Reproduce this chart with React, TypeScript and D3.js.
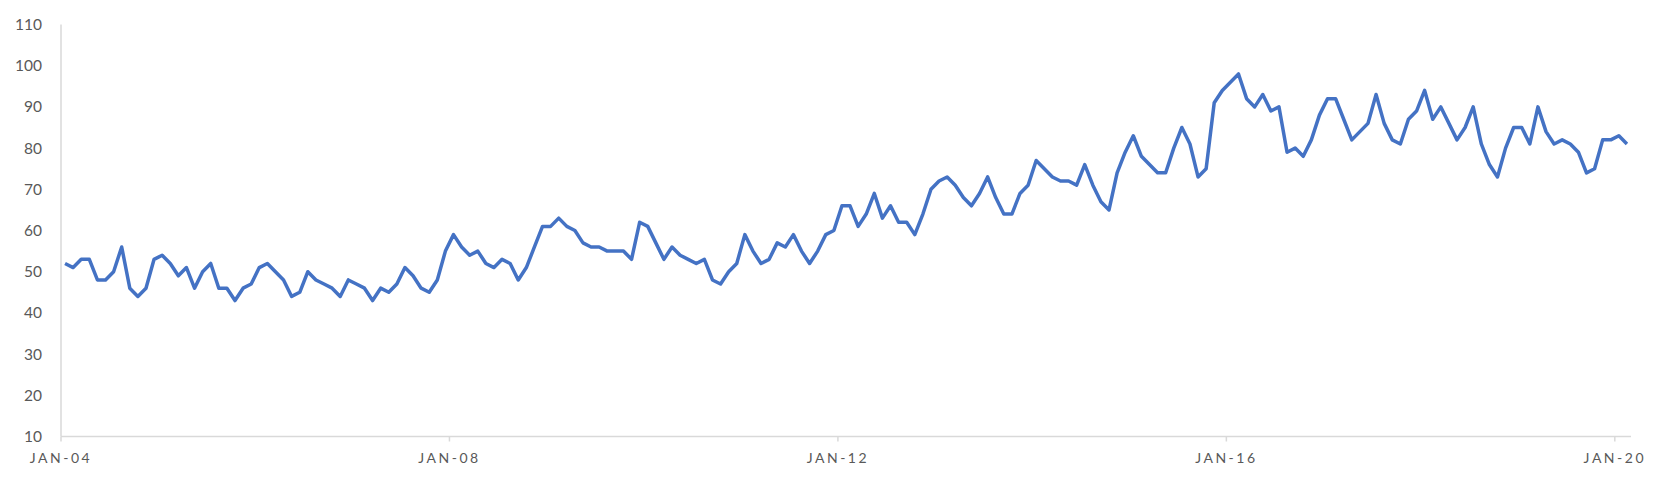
import React from 'react';
import * as d3 from 'd3';

// monthly index, Jan 2004 .. Feb 2020
const values = [
  52, 51, 53, 53, 48, 48, 50, 56, 46, 44,
  46, 53, 54, 52, 49, 51, 46, 50, 52, 46,
  46, 43, 46, 47, 51, 52, 50, 48, 44, 45,
  50, 48, 47, 46, 44, 48, 47, 46, 43, 46,
  45, 47, 51, 49, 46, 45, 48, 55, 59, 56,
  54, 55, 52, 51, 53, 52, 48, 51, 56, 61,
  61, 63, 61, 60, 57, 56, 56, 55, 55, 55,
  53, 62, 61, 57, 53, 56, 54, 53, 52, 53,
  48, 47, 50, 52, 59, 55, 52, 53, 57, 56,
  59, 55, 52, 55, 59, 60, 66, 66, 61, 64,
  69, 63, 66, 62, 62, 59, 64, 70, 72, 73,
  71, 68, 66, 69, 73, 68, 64, 64, 69, 71,
  77, 75, 73, 72, 72, 71, 76, 71, 67, 65,
  74, 79, 83, 78, 76, 74, 74, 80, 85, 81,
  73, 75, 91, 94, 96, 98, 92, 90, 93, 89,
  90, 79, 80, 78, 82, 88, 92, 92, 87, 82,
  84, 86, 93, 86, 82, 81, 87, 89, 94, 87,
  90, 86, 82, 85, 90, 81, 76, 73, 80, 85,
  85, 81, 90, 84, 81, 82, 81, 79, 74, 75,
  82, 82, 83, 81,
];

const tickLabels = ['JAN-04', 'JAN-08', 'JAN-12', 'JAN-16', 'JAN-20'];
const tickMonths = [0, 48, 96, 144, 192];
const yTicks = [10, 20, 30, 40, 50, 60, 70, 80, 90, 100, 110];

const W = 1654;
const H = 479;

const App = () => {
  const x = d3.scaleLinear().domain([0, values.length]).range([61, 1631]);
  const y = d3.scaleLinear().domain([10, 110]).range([436.5, 24.5]);

  // points sit in the middle of each month slot
  const path = d3
    .line<number>()
    .x((d, i) => x(i + 0.5))
    .y((d) => y(d))(values);

  return (
    <svg
      width={W}
      height={H}
      style={{ position: 'absolute', left: 0, top: 0, background: '#fff' }}
      fontFamily="Lato, 'Open Sans', sans-serif"
    >
      <line x1={x(0)} x2={x(0)} y1={y(110)} y2={y(10)} stroke="#d9d9d9" strokeWidth={1.5} />
      <line x1={x(0)} x2={x(values.length)} y1={y(10)} y2={y(10)} stroke="#d9d9d9" strokeWidth={1.5} />
      {yTicks.map((t) => (
        <text key={t} x={42} y={y(t)} dy="0.35em" textAnchor="end" fontSize={15.5} fill="#595959">
          {t}
        </text>
      ))}
      {tickMonths.map((m, i) => (
        <g key={m}>
          <line x1={x(m)} x2={x(m)} y1={y(10)} y2={y(10) + 5} stroke="#d9d9d9" strokeWidth={1.5} />
          <text
            x={x(m)}
            y={463}
            textAnchor="middle"
            fontSize={14}
            letterSpacing={2.5}
            fill="#595959"
          >
            {tickLabels[i]}
          </text>
        </g>
      ))}
      <path d={path ?? ''} fill="none" stroke="#4472C4" strokeWidth={3.5} strokeLinejoin="round" />
    </svg>
  );
};

export default App;
